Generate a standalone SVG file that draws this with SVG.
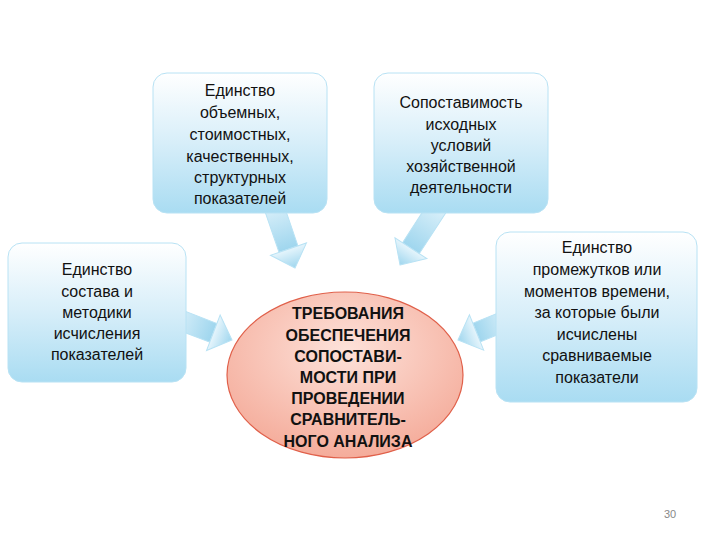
<svg xmlns="http://www.w3.org/2000/svg" width="720" height="540" viewBox="0 0 720 540">
<defs>
<linearGradient id="bg" x1="0" y1="0" x2="0" y2="1"><stop offset="0" stop-color="#ffffff"/><stop offset="0.5" stop-color="#d7eef9"/><stop offset="1" stop-color="#a9dcf2"/></linearGradient>
<linearGradient id="ag" x1="0" y1="0" x2="1" y2="0"><stop offset="0" stop-color="#e6f5fc"/><stop offset="1" stop-color="#9fd6ee"/></linearGradient>
<radialGradient id="eg" cx="0.5" cy="0.35" r="0.7"><stop offset="0" stop-color="#fde2da"/><stop offset="1" stop-color="#f4a896"/></radialGradient>
<polygon id="arr" points="0,-10 -20,-10 -20,-19 0,0 -20,19 -20,10"/>
</defs>
<style>
.box{fill:url(#bg);stroke:#b8e2f4;stroke-width:1}
.t{font-family:"Liberation Sans",Arial,sans-serif;font-size:16px;fill:#111;text-anchor:middle}
.b{font-weight:bold;font-size:16px}
.a{fill:url(#ag);stroke:#b8e2f4;stroke-width:1}
</style>
<rect width="720" height="540" fill="#fff"/>
<g id="connectors">
<path class="a" d="M0,-10 L-56,-10 L-56,10 L0,10 Z" transform="translate(295,268) rotate(71) translate(-20,0)"/>
<polygon class="a" points="0,0 -20,-19 -20,19" transform="translate(295,268) rotate(71)"/>
<path class="a" d="M0,-10 L-60,-10 L-60,10 L0,10 Z" transform="translate(400,265) rotate(123) translate(-20,0)"/>
<polygon class="a" points="0,0 -20,-19 -20,19" transform="translate(400,265) rotate(123)"/>
<path class="a" d="M0,-10 L-49,-10 L-49,10 L0,10 Z" transform="translate(232,340) rotate(21) translate(-20,0)"/>
<polygon class="a" points="0,0 -20,-19 -20,19" transform="translate(232,340) rotate(21)"/>
<path class="a" d="M0,-10 L-41,-10 L-41,10 L0,10 Z" transform="translate(458,340) rotate(158) translate(-20,0)"/>
<polygon class="a" points="0,0 -20,-19 -20,19" transform="translate(458,340) rotate(158)"/>
</g>
<g id="n1"><rect class="box" x="153" y="73" width="174" height="140" rx="14"/>
<text class="t" x="240"><tspan x="240" y="96">Единство</tspan><tspan x="240" y="118">объемных,</tspan><tspan x="240" y="140">стоимостных,</tspan><tspan x="240" y="162">качественных,</tspan><tspan x="240" y="183">структурных</tspan><tspan x="240" y="204">показателей</tspan></text></g>
<g id="n2"><rect class="box" x="374" y="73" width="174" height="140" rx="14"/>
<text class="t"><tspan x="461" y="108">Сопоставимость</tspan><tspan x="461" y="130">исходных</tspan><tspan x="461" y="151">условий</tspan><tspan x="461" y="172">хозяйственной</tspan><tspan x="461" y="193">деятельности</tspan></text></g>
<g id="n3"><rect class="box" x="8" y="243" width="178" height="139" rx="14"/>
<text class="t"><tspan x="97" y="275">Единство</tspan><tspan x="97" y="297">состава и</tspan><tspan x="97" y="318">методики</tspan><tspan x="97" y="339">исчисления</tspan><tspan x="97" y="360">показателей</tspan></text></g>
<g id="n4"><rect class="box" x="496" y="232" width="201" height="170" rx="14"/>
<text class="t"><tspan x="597" y="253">Единство</tspan><tspan x="597" y="275">промежутков или</tspan><tspan x="597" y="297">моментов времени,</tspan><tspan x="597" y="318">за которые были</tspan><tspan x="597" y="340">исчислены</tspan><tspan x="597" y="361">сравниваемые</tspan><tspan x="597" y="383">показатели</tspan></text></g>
<g id="center"><ellipse cx="345" cy="375" rx="118" ry="83" fill="url(#eg)" stroke="#e0604a" stroke-width="1.2"/>
<text class="t b"><tspan x="348" y="319">ТРЕБОВАНИЯ</tspan><tspan x="348" y="341">ОБЕСПЕЧЕНИЯ</tspan><tspan x="348" y="362">СОПОСТАВИ-</tspan><tspan x="348" y="383">МОСТИ ПРИ</tspan><tspan x="348" y="404">ПРОВЕДЕНИИ</tspan><tspan x="348" y="425">СРАВНИТЕЛЬ-</tspan><tspan x="348" y="447">НОГО АНАЛИЗА</tspan></text></g>
<text x="670" y="518" style="font-family:'Liberation Sans',sans-serif;font-size:11px;fill:#888;text-anchor:middle">30</text>
</svg>
